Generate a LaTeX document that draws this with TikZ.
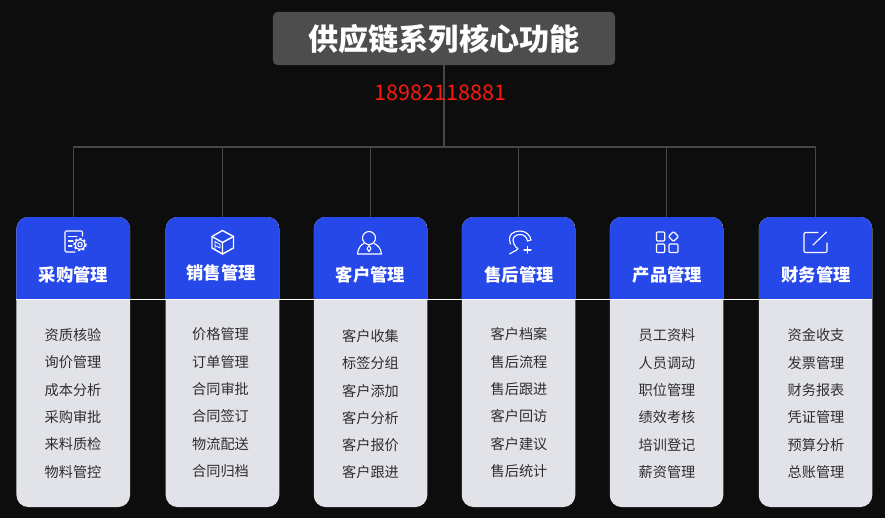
\documentclass[tikz,border=0pt]{standalone}
\usepackage{fontspec}
\setmainfont{Noto Sans CJK SC}
\definecolor{pagebg}{HTML}{0D0D0D}
\definecolor{rootgray}{HTML}{4D4D4D}
\definecolor{linkgray}{HTML}{474747}
\definecolor{headblue}{HTML}{2748E8}
\definecolor{bodygray}{HTML}{E2E3E8}
\definecolor{itemink}{HTML}{2E2E2E}
\definecolor{phonered}{HTML}{FA1A0E}
\tikzset{
  rootbox/.style={fill=rootgray, rounded corners=4pt, minimum width=10.26cm, minimum height=1.6cm, text=white, font=\fontsize{25.7}{28}\selectfont\bfseries, inner sep=0pt},
  cardbox/.style={fill=bodygray, rounded corners=10pt, minimum width=3.405cm, minimum height=8.7cm, inner sep=0pt,
    path picture={\fill[headblue, sharp corners] (path picture bounding box.north west) rectangle ([yshift=-70pt]path picture bounding box.north east);}},
  headtext/.style={text=white, font=\fontsize{14.8}{17}\selectfont\bfseries, inner sep=0pt},
  itemtext/.style={text=itemink, font=\fontsize{12.1}{14}\selectfont, inner sep=0pt},
  linkline/.style={draw=linkgray, line width=0.9pt},
  iconline/.style={draw=white, line width=0.95pt, line cap=round, line join=round}
}
\begin{document}
\begin{tikzpicture}[x=0.03cm, y=-0.03cm]

  % Background
  \fill[pagebg] (0,0) rectangle (885,518);
  \useasboundingbox (0,0) rectangle (885,518);

  % Root
  \node[rootbox] (root) at (444,38.5) {供应链系列核心功能};
  \coordinate (trunk) at (444,147);

  % Cards
  \node[cardbox] (buyCard) at (73.25,362) {};
  \node[cardbox] (saleCard) at (222.5,362) {};
  \node[cardbox] (custCard) at (370.5,362) {};
  \node[cardbox] (careCard) at (518.5,362) {};
  \node[cardbox] (prodCard) at (666.5,362) {};
  \node[cardbox] (finCard) at (815.5,362) {};

  % Links
  \draw[linkline] (root.south) -- (trunk);
  \draw[linkline] (buyCard.north) |- (trunk);
  \draw[linkline] (saleCard.north) |- (trunk);
  \draw[linkline] (custCard.north) |- (trunk);
  \draw[linkline] (careCard.north) |- (trunk);
  \draw[linkline] (prodCard.north) |- (trunk);
  \draw[linkline] (finCard.north) |- (trunk);

  % Phone number
  \node[text=phonered, font=\fontsize{18.4}{20}\selectfont, inner sep=0pt] (phone) at (440.5,92.5) {18982118881};

  % White rule
  \draw[white, line width=1.5pt] (buyCard.west |- 0,299.5) -- (finCard.east |- 0,299.5);

  % Card titles
  \node[headtext] (buyHead) at (73.5,275) {采购管理};
  \node[headtext] (saleHead) at (221,273) {销售管理};
  \node[headtext] (custHead) at (370.5,275) {客户管理};
  \node[headtext] (careHead) at (519,275) {售后管理};
  \node[headtext] (prodHead) at (667.5,275) {产品管理};
  \node[headtext] (finHead) at (816,275) {财务管理};

  % Items
  \foreach \name [count=\i from 0] in {资质核验,询价管理,成本分析,采购审批,来料质检,物料管控}
    \node[itemtext] (buy\i) at (73,335.3+27.3*\i) {\name};
  \foreach \name [count=\i from 0] in {价格管理,订单管理,合同审批,合同签订,物流配送,合同归档}
    \node[itemtext] (sale\i) at (220.5,334.5+27.3*\i) {\name};
  \foreach \name [count=\i from 0] in {客户收集,标签分组,客户添加,客户分析,客户报价,客户跟进}
    \node[itemtext] (cust\i) at (370.5,336+27.3*\i) {\name};
  \foreach \name [count=\i from 0] in {客户档案,售后流程,售后跟进,客户回访,客户建议,售后统计}
    \node[itemtext] (care\i) at (519,334.5+27.3*\i) {\name};
  \foreach \name [count=\i from 0] in {员工资料,人员调动,职位管理,绩效考核,培训登记,薪资管理}
    \node[itemtext] (prod\i) at (667,335.5+27.3*\i) {\name};
  \foreach \name [count=\i from 0] in {资金收支,发票管理,财务报表,凭证管理,预算分析,总账管理}
    \node[itemtext] (fin\i) at (816,335.5+27.3*\i) {\name};

  % Icon: document with gear
  \draw[iconline, rounded corners=1pt] (82.5,236) -- (82.5,231) -- (65,231) -- (65,252) -- (75,252);
  \draw[iconline] (68.5,236.5) -- (77,236.5) (68.5,241) -- (73,241) (68.5,246) -- (72,246);
  \draw[iconline] (80,244.5) circle (2.2);
  \draw[iconline] (80,244.5) circle (5);
  \draw[white, line width=1.1pt, dash pattern=on 2pt off 1.9pt] (80,244.5) circle (6);

  % Icon: cube
  \draw[iconline, line width=1.2pt] (222.5,230.5) -- (233.5,236.5) -- (233.5,248) -- (222.5,254) -- (212,248) -- (212,236.5) -- cycle;
  \draw[iconline, line width=1.2pt] (212,236.5) -- (222.5,242.5) -- (233.5,236.5) (222.5,242.5) -- (222.5,254);
  \draw[iconline, line width=0.7pt] (215,250) -- (215,241.5) -- (220,244.5) -- (220,248) -- (215,245.5);

  % Icon: person
  \draw[iconline] (369,238) circle (6.5);
  \draw[iconline] (357.5,254) -- (381.5,254) .. controls (381,248) and (377,244.5) .. (374,243.5);
  \draw[iconline] (357.5,254) .. controls (358,248) and (361,244.5) .. (364,243.5);
  \draw[iconline] (369,245.5) -- (371,248.5) -- (369,251.5) -- (367,248.5) -- cycle;

  % Icon: headset
  \draw[iconline] (510.5,244) .. controls (507,234) and (514,231) .. (520,231) .. controls (526,231) and (530,235) .. (531,240) -- (527.5,241);
  \draw[iconline] (514,244) .. controls (511,238) and (515,234.5) .. (520,234.5) .. controls (524,234.5) and (527,237) .. (527.5,241);
  \draw[iconline] (514,244) .. controls (515,247) and (517,248) .. (518,248.5) .. controls (516,252) and (512,251) .. (509.5,254);
  \draw[iconline] (527.5,246.5) -- (527.5,253) (524,250) -- (531,250);

  % Icon: four tiles
  \draw[iconline, rounded corners=0.8pt] (656.5,232) rectangle (664.7,241);
  \draw[iconline, rounded corners=0.8pt] (656.5,244) rectangle (664.7,252.5);
  \draw[iconline, rounded corners=0.8pt] (669,244) rectangle (678,252.5);
  \draw[iconline, rounded corners=0.8pt] (673.5,231.5) -- (678.5,236.5) -- (673.5,241.5) -- (668.5,236.5) -- cycle;

  % Icon: edit box
  \draw[iconline, rounded corners=1pt] (818,232.5) -- (804,232.5) -- (804,252.5) -- (827,252.5) -- (827,243);
  \draw[iconline] (813,245) -- (826.5,232);

\end{tikzpicture}
\end{document}
